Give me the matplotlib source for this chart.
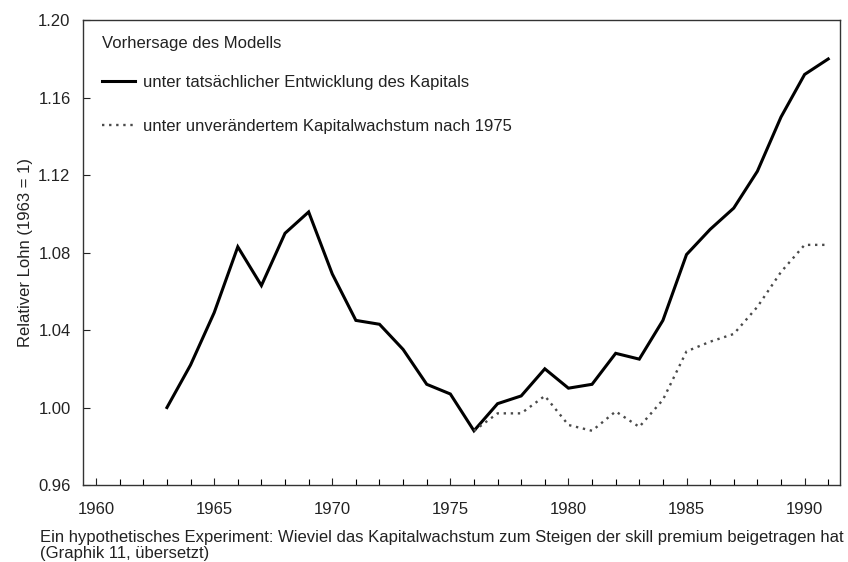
import matplotlib.pyplot as plt
import numpy as np

jahre_ist = np.arange(1963, 1992)
lohn_ist = [1.000, 1.022, 1.049, 1.083, 1.063, 1.090, 1.101, 1.069, 1.045, 1.043,
            1.030, 1.012, 1.007, 0.988, 1.002, 1.006, 1.020, 1.010, 1.012, 1.028,
            1.025, 1.045, 1.079, 1.092, 1.103, 1.122, 1.150, 1.172, 1.180]

jahre_konst = np.arange(1976, 1992)
lohn_konst = [0.988, 0.997, 0.997, 1.006, 0.991, 0.988, 0.998, 0.990, 1.004, 1.029,
              1.034, 1.038, 1.052, 1.070, 1.084, 1.084]

y_ticks = [0.96, 1.00, 1.04, 1.08, 1.12, 1.16, 1.20]
x_ticks = [1960, 1965, 1970, 1975, 1980, 1985, 1990]

plt.rcParams["font.family"] = ["Liberation Sans", "DejaVu Sans"]
fs = 12

fig = plt.figure(figsize=(8.48, 5.62), dpi=100)
ax = fig.add_axes([0.098, 0.137, 0.8926, 0.827])

ax.plot(jahre_ist, lohn_ist, color="black", lw=2.2, solid_joinstyle="miter",
        label="unter tatsächlicher Entwicklung des Kapitals")
ax.plot(jahre_konst, lohn_konst, color="#4a4a4a", lw=1.7, linestyle=(0, (1, 2.0)),
        label="unter unverändertem Kapitalwachstum nach 1975")

ax.set_xlim(1959.45, 1991.5)
ax.set_ylim(0.96, 1.20)
ax.set_xticks(x_ticks)
ax.set_xticks(np.arange(1960, 1992), minor=True)
ax.set_yticks(y_ticks)
ax.set_yticklabels([f"{v:.2f}" for v in y_ticks])
ax.tick_params(direction="in", length=5, width=0.8, labelsize=fs, colors="#222222")
ax.tick_params(axis="y", pad=9)
ax.tick_params(axis="x", which="both", pad=12)
ax.tick_params(axis="x", which="minor", direction="in", length=4, width=0.8)
for s in ax.spines.values():
    s.set_linewidth(1.0)
    s.set_color("#333333")

ax.set_ylabel("Relativer Lohn (1963 = 1)", fontsize=fs, color="#222222", labelpad=4)

leg = ax.legend(title="Vorhersage des Modells", loc="upper left",
                bbox_to_anchor=(0.018, 0.977), frameon=False,
                fontsize=fs, title_fontsize=fs, alignment="left",
                handlelength=2.0, handletextpad=0.45, labelspacing=1.75,
                borderaxespad=0.0, borderpad=0.3)
leg.get_title().set_color("#222222")
for t in leg.get_texts():
    t.set_color("#222222")
leg._legend_box.sep = 17

fig.text(0.047, 0.057, "Ein hypothetisches Experiment: Wieviel das Kapitalwachstum zum "
         "Steigen der skill premium beigetragen hat\n(Graphik 11, übersetzt)",
         fontsize=fs, color="#222222", ha="left", va="top", linespacing=1.08)

fig.savefig("out.png", dpi=100)
